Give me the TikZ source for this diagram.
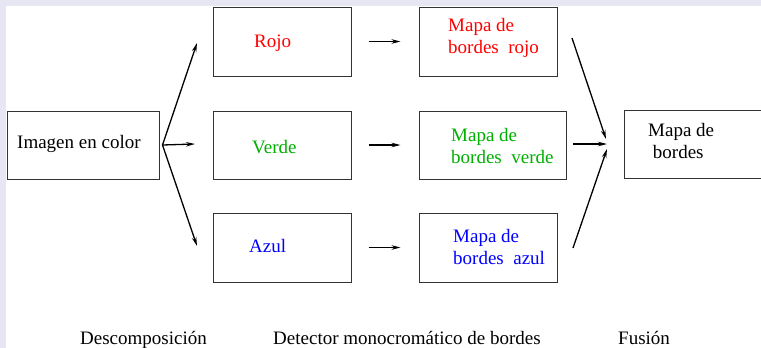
\documentclass[tikz,border=0pt]{standalone}
\usepackage{fontspec}
\setmainfont{Liberation Serif}
\usetikzlibrary{arrows.meta}
\definecolor{bglav}{RGB}{231,231,243}
\definecolor{chred}{RGB}{255,0,0}
\definecolor{chgreen}{RGB}{0,175,0}
\definecolor{chblue}{RGB}{0,0,255}
\tikzset{
  box/.style={draw=black!80,line width=1pt,rectangle,inner sep=0pt},
  txt/.style={anchor=base west,inner sep=0pt,align=left,font=\fontsize{19}{21.5}\selectfont},
  flow/.style={line width=1.3pt,-{Stealth[length=9pt,width=4.5pt]}}
}
\begin{document}
\begin{tikzpicture}[x=1pt,y=-1pt]
\useasboundingbox (0,0) rectangle (761,348);
\clip (0,0) rectangle (761,348);
\fill[bglav] (0,0) rectangle (761,348);
\fill[white] (6,6) rectangle (761,348);
% Boxes
\node[box,minimum width=152pt,minimum height=68pt] (img) at (83,145) {};
\node[box,minimum width=138pt,minimum height=69pt] (rojo) at (282,41.5) {};
\node[box,minimum width=138pt,minimum height=68pt] (verde) at (282,145) {};
\node[box,minimum width=138pt,minimum height=69pt] (azul) at (282,247.5) {};
\node[box,minimum width=138pt,minimum height=69pt] (mrojo) at (488,41.5) {};
\node[box,minimum width=147pt,minimum height=68pt] (mverde) at (492.5,145) {};
\node[box,minimum width=138pt,minimum height=69pt] (mazul) at (488,247.5) {};
\node[box,minimum width=176pt,minimum height=68pt] (fus) at (712,144) {};
% Texts (base of last line)
\node[txt] (img-t) at (17,148) {Imagen en color};
\node[txt,chred] (rojo-t) at (254,47) {Rojo};
\node[txt,chgreen] (verde-t) at (252,153) {Verde};
\node[txt,chblue] (azul-t) at (249,252) {Azul};
\node[txt,chred] (mrojo-t) at (448,53) {Mapa de\\bordes\ \ rojo};
\node[txt,chgreen] (mverde-t) at (451,163) {Mapa de\\bordes\ \ verde};
\node[txt,chblue] (mazul-t) at (453,264) {Mapa de\\bordes\ \ azul};
\node[txt] (fus-t) at (648,158) {Mapa de\\\ bordes};
% Stage captions
\node[txt] (descomp) at (80,344) {Descomposición};
\node[txt] (detector) at (273,344) {Detector monocromático de bordes};
\node[txt] (fusion) at (618,344) {Fusión};
% Split
\coordinate (split) at ([xshift=3pt]img.east);
\coordinate (s1) at (197,43);
\coordinate (s2) at (195,144);
\coordinate (s3) at (197,246);
\draw[flow] (split) -- (s1);
\draw[flow] (split) -- (s2);
\draw[flow] (split) -- (s3);
% Detectors
\draw[flow] ([xshift=17pt]rojo.east) -- ([xshift=-18pt]mrojo.west);
\draw[flow] ([xshift=17pt]verde.east) -- ([xshift=-18pt]mverde.west);
\draw[flow] ([xshift=17pt]azul.east) -- ([xshift=-18pt]mazul.west);
% Fusion
\coordinate (f1) at (572,38);
\coordinate (f2) at (573,144);
\coordinate (f3) at (573,248);
\coordinate (m1) at (606,139);
\coordinate (m2) at (607,144);
\coordinate (m3) at (607,149);
\draw[flow] (f1) -- (m1);
\draw[flow] (f2) -- (m2);
\draw[flow] (f3) -- (m3);
\end{tikzpicture}
\end{document}
